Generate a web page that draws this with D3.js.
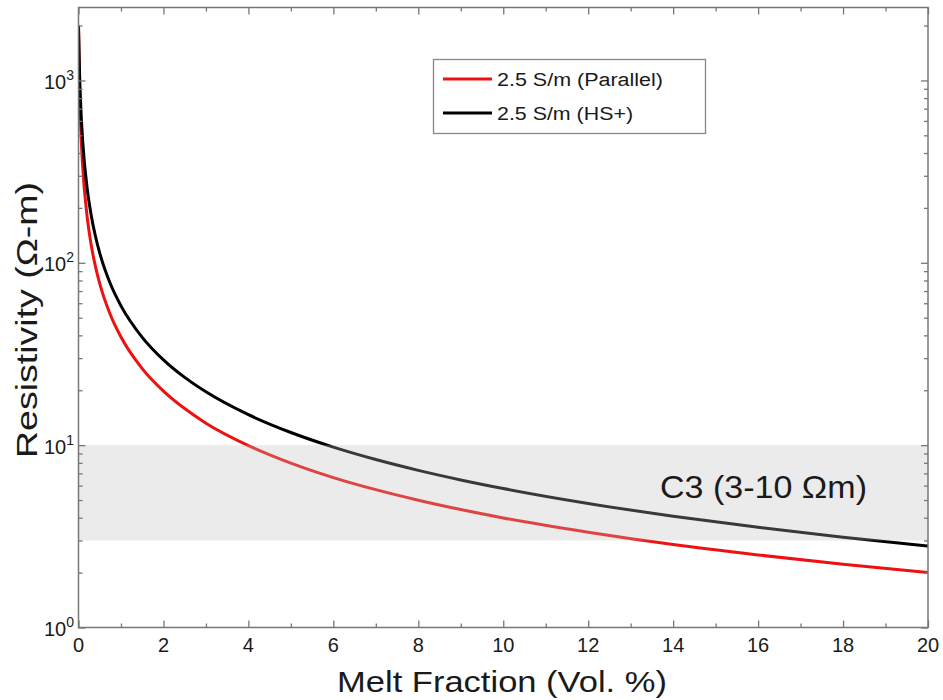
<!DOCTYPE html>
<html>
<head>
<meta charset="utf-8">
<script src="https://cdn.jsdelivr.net/npm/d3@7"></script>
<style>
  html, body { margin: 0; padding: 0; background: #fff; }
  svg { display: block; font-family: "Liberation Sans", Arial, sans-serif; }
</style>
</head>
<body>
<svg id="chart" width="943" height="700"></svg>
<script>
// Melt fraction (vol. %) sample points
const meltFraction = [0, 0.025, 0.05, 0.1, 0.2, 0.3, 0.4, 0.5, 0.75, 1, 1.5, 2, 2.5, 3, 4, 5, 6, 7, 8, 9, 10, 12, 14, 16, 18, 20];
// Bulk resistivity (Ω-m), parallel mixing with 2.5 S/m melt
const parallelRho = [2000, 889, 571, 333, 182, 125, 95.2, 76.9, 51.9, 39.2, 26.3, 19.8, 15.87, 13.2, 9.95, 7.97, 6.64, 5.70, 4.99, 4.435, 3.99, 3.33, 2.85, 2.50, 2.22, 2.00];
// Bulk resistivity (Ω-m), Hashin-Shtrikman upper bound with 2.5 S/m melt
const hsPlusRho = [2000, 1091, 750, 461, 260.7, 181.7, 139.4, 113.0, 76.7, 58.07, 39.03, 29.37, 23.52, 19.61, 14.69, 11.73, 9.753, 8.337, 7.274, 6.447, 5.784, 4.789, 4.078, 3.544, 3.129, 2.796];
// C3 conductor resistivity range (Ω-m)
const c3Range = [3, 10];
const seriesNames = ["2.5 S/m (Parallel)", "2.5 S/m (HS+)"];
const seriesColors = ["#ee1111", "#000000"];
const xMajorTicks = [0, 2, 4, 6, 8, 10, 12, 14, 16, 18, 20];
const xMinorTicks = [1, 3, 5, 7, 9, 11, 13, 15, 17, 19];
const yDecades = [0, 1, 2, 3];

const svg = d3.select("#chart");
const plotLeft = 78.5, plotRight = 928, plotTop = 7.5, plotBottom = 627.5;
const textColor = "#1a1a1a";

const x = d3.scaleLinear().domain([0, 20]).range([plotLeft, plotRight]);
const y = d3.scaleLog().domain([1, Math.pow(10, 3.4)]).range([plotBottom, plotTop]);

svg.append("defs").append("clipPath").attr("id", "plotclip")
  .append("rect").attr("x", plotLeft).attr("y", plotTop)
  .attr("width", plotRight - plotLeft).attr("height", plotBottom - plotTop);

const plot = svg.append("g").attr("clip-path", "url(#plotclip)");

const series = [
  { name: seriesNames[0], color: seriesColors[0], values: parallelRho, labelWidth: 166 },
  { name: seriesNames[1], color: seriesColors[1], values: hsPlusRho, labelWidth: 136 }
];

const line = d3.line()
  .x((d, i) => x(meltFraction[i]))
  .y(d => y(d))
  .curve(d3.curveMonotoneX);

plot.selectAll("path.series")
  .data(series)
  .join("path")
  .attr("class", "series")
  .attr("fill", "none")
  .attr("stroke", d => d.color)
  .attr("stroke-width", 3)
  .attr("d", d => line(d.values));

// translucent band for the C3 range
plot.append("rect")
  .attr("x", plotLeft)
  .attr("width", plotRight - plotLeft)
  .attr("y", y(c3Range[1]))
  .attr("height", y(c3Range[0]) - y(c3Range[1]))
  .attr("fill", "#bcbcbc")
  .attr("fill-opacity", 0.3);

svg.append("text")
  .attr("x", 660)
  .attr("y", 498)
  .attr("font-size", 32)
  .attr("textLength", 207)
  .attr("lengthAdjust", "spacingAndGlyphs")
  .attr("fill", textColor)
  .text("C3 (3-10 Ωm)");

// Axes: inward ticks on all four sides
const axisColor = "#777";

const xAxisBottom = d3.axisBottom(x).tickValues(xMajorTicks).tickSize(-7).tickFormat("");
const xAxisBottomMinor = d3.axisBottom(x).tickValues(xMinorTicks).tickSize(-4).tickFormat("");
const xAxisTop = d3.axisTop(x).tickValues(xMajorTicks).tickSize(-7).tickFormat("");
const xAxisTopMinor = d3.axisTop(x).tickValues(xMinorTicks).tickSize(-4).tickFormat("");

function styleAxis(g) {
  g.select(".domain").remove();
  g.selectAll("line").attr("stroke", axisColor).attr("stroke-width", 1.3);
}

svg.append("g").attr("transform", `translate(0,${plotBottom})`).call(xAxisBottom).call(styleAxis);
svg.append("g").attr("transform", `translate(0,${plotBottom})`).call(xAxisBottomMinor).call(styleAxis);
svg.append("g").attr("transform", `translate(0,${plotTop})`).call(xAxisTop).call(styleAxis);
svg.append("g").attr("transform", `translate(0,${plotTop})`).call(xAxisTopMinor).call(styleAxis);

const yMajor = yDecades.map(e => Math.pow(10, e));
const yMinor = [];
yDecades.forEach(e => {
  for (let m = 2; m <= 9; m++) {
    const v = m * Math.pow(10, e);
    if (v <= y.domain()[1]) yMinor.push(v);
  }
});

const yAxisLeft = d3.axisLeft(y).tickValues(yMajor).tickSize(-7).tickFormat("");
const yAxisLeftMinor = d3.axisLeft(y).tickValues(yMinor).tickSize(-4).tickFormat("");
const yAxisRight = d3.axisRight(y).tickValues(yMajor).tickSize(-7).tickFormat("");
const yAxisRightMinor = d3.axisRight(y).tickValues(yMinor).tickSize(-4).tickFormat("");

svg.append("g").attr("transform", `translate(${plotLeft},0)`).call(yAxisLeft).call(styleAxis);
svg.append("g").attr("transform", `translate(${plotLeft},0)`).call(yAxisLeftMinor).call(styleAxis);
svg.append("g").attr("transform", `translate(${plotRight},0)`).call(yAxisRight).call(styleAxis);
svg.append("g").attr("transform", `translate(${plotRight},0)`).call(yAxisRightMinor).call(styleAxis);

// frame
svg.append("rect")
  .attr("x", plotLeft).attr("y", plotTop)
  .attr("width", plotRight - plotLeft).attr("height", plotBottom - plotTop)
  .attr("fill", "none").attr("stroke", axisColor).attr("stroke-width", 1.5);

// x tick labels
svg.append("g").selectAll("text")
  .data(xMajorTicks)
  .join("text")
  .attr("x", d => x(d))
  .attr("y", 652)
  .attr("text-anchor", "middle")
  .attr("font-size", 20)
  .attr("fill", textColor)
  .text(d => d);

// y tick labels as powers of ten
const yl = svg.append("g").selectAll("text")
  .data(yDecades)
  .join("text")
  .attr("x", 74)
  .attr("y", d => y(Math.pow(10, d)) + 8.5)
  .attr("text-anchor", "end")
  .attr("font-size", 20)
  .attr("fill", textColor);
yl.append("tspan").text("10");
yl.append("tspan").attr("font-size", 14).attr("dy", -9).text(d => d);

// axis titles
svg.append("text")
  .attr("x", 337)
  .attr("y", 692)
  .attr("font-size", 30)
  .attr("textLength", 330)
  .attr("lengthAdjust", "spacingAndGlyphs")
  .attr("fill", textColor)
  .text("Melt Fraction (Vol. %)");

svg.append("text")
  .attr("transform", "translate(37,458) rotate(-90)")
  .attr("font-size", 30)
  .attr("textLength", 276)
  .attr("lengthAdjust", "spacingAndGlyphs")
  .attr("fill", textColor)
  .text("Resistivity (Ω-m)");

// legend
const legend = svg.append("g");
legend.append("rect")
  .attr("x", 433.5).attr("y", 59.5)
  .attr("width", 272).attr("height", 74)
  .attr("fill", "#fff").attr("stroke", "#888").attr("stroke-width", 1.3);

const legendRows = legend.selectAll("g.row")
  .data(series)
  .join("g")
  .attr("class", "row")
  .attr("transform", (d, i) => `translate(0,${79 + i * 34})`);
legendRows.append("line")
  .attr("x1", 443).attr("x2", 492)
  .attr("y1", 0).attr("y2", 0)
  .attr("stroke", d => d.color)
  .attr("stroke-width", 3);
legendRows.append("text")
  .attr("x", 497)
  .attr("y", 6.5)
  .attr("font-size", 18)
  .attr("textLength", d => d.labelWidth)
  .attr("lengthAdjust", "spacingAndGlyphs")
  .attr("fill", textColor)
  .text(d => d.name);
</script>
</body>
</html>
